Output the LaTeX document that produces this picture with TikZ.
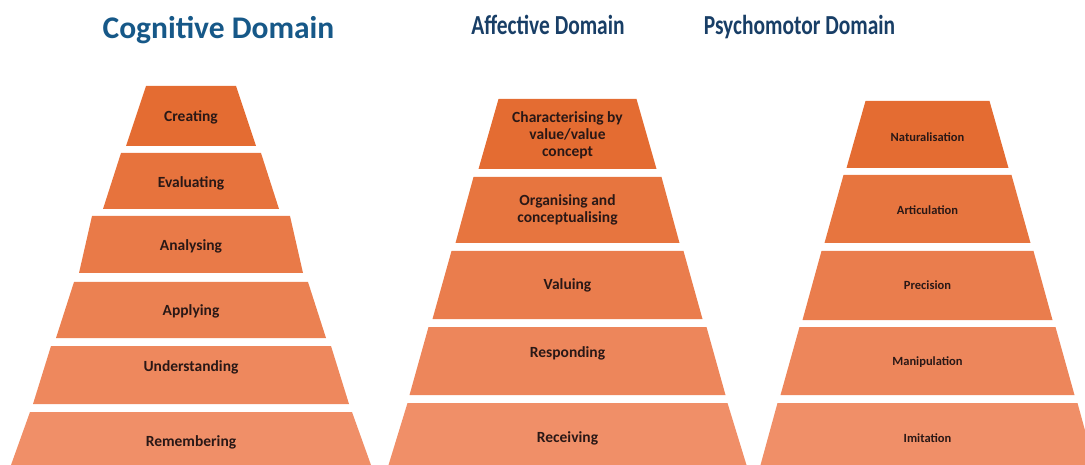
\documentclass[tikz,border=0pt]{standalone}
\usepackage{graphicx}
\usepackage{fontspec}
\setmainfont{Carlito}
\definecolor{cogblue}{RGB}{22,88,136}
\definecolor{navy}{RGB}{24,62,102}
\definecolor{rustdark}{RGB}{228,108,50}
\definecolor{rustlight}{RGB}{240,143,104}
\definecolor{ink}{RGB}{42,24,22}

\begin{document}
\begin{tikzpicture}[x=1pt,y=-1pt,
  domaintitle/.style={font=\bfseries\fontsize{27.5}{30}\selectfont,text=navy,anchor=base,inner sep=0pt},
  tierlabel/.style={font=\bfseries\fontsize{15.5}{17}\selectfont,text=ink,align=center,inner sep=0pt},
  small tierlabel/.style={tierlabel,font=\bfseries\fontsize{12.5}{14}\selectfont}]
  \useasboundingbox (0,0) rectangle (1085,465);

  % headings
  \node[domaintitle,text=cogblue,font=\bfseries\fontsize{31.5}{34}\selectfont] (cog title) at (218.5,39) {Cognitive Domain};
  \node[domaintitle] (aff title) at (548,35) {\scalebox{0.78}[1]{Affective Domain}};
  \node[domaintitle] (psy title) at (799.5,35) {\scalebox{0.78}[1]{Psychomotor Domain}};

  % cognitive domain
  \foreach \nm/\yt/\yb/\wt/\wb/\ty/\sh/\txt in {
      creating/86/146/45/65/117/100/Creating,
      evaluating/153/209/70/88/183/80/Evaluating,
      analysing/216/273/99/112/246/60/Analysing,
      applying/282/338/117/135/311/40/Applying,
      understanding/346/404/140/158/367/20/Understanding,
      remembering/412/465/161/180/442/0/Remembering}
  {
    \fill[rustdark!\sh!rustlight] (191-\wt,\yt) -- (191+\wt,\yt) -- (191+\wb,\yb) -- (191-\wb,\yb) -- cycle;
    \node[tierlabel] (\nm) at (191,\ty) {\txt};
  }

  % affective domain
  \foreach \nm/\yt/\yb/\wt/\wb/\ty/\sh/\txt in {
      characterising/99/169/69/89/135/100/{Characterising by\\value/value\\concept},
      organising/177/243/94/112/210/75/{Organising and\\conceptualising},
      valuing/251/319/116/135/285/50/Valuing,
      responding/327/395/139/158/353/25/Responding,
      receiving/403/465/160/179/438/0/Receiving}
  {
    \fill[rustdark!\sh!rustlight] (567.5-\wt,\yt) -- (567.5+\wt,\yt) -- (567.5+\wb,\yb) -- (567.5-\wb,\yb) -- cycle;
    \node[tierlabel] (\nm) at (567.5,\ty) {\txt};
  }

  % psychomotor domain
  \foreach \nm/\yt/\yb/\wt/\wb/\ty/\sh/\txt in {
      naturalisation/101/168/62/81/137/100/Naturalisation,
      articulation/175/243/84/103/210/75/Articulation,
      precision/251/320/106/125/285/50/Precision,
      manipulation/327/395/128/147/362/25/Manipulation,
      imitation/403/465/150/167/438/0/Imitation}
  {
    \fill[rustdark!\sh!rustlight] (927.5-\wt,\yt) -- (927.5+\wt,\yt) -- (927.5+\wb,\yb) -- (927.5-\wb,\yb) -- cycle;
    \node[small tierlabel] (\nm) at (927.5,\ty) {\txt};
  }
\end{tikzpicture}
\end{document}
